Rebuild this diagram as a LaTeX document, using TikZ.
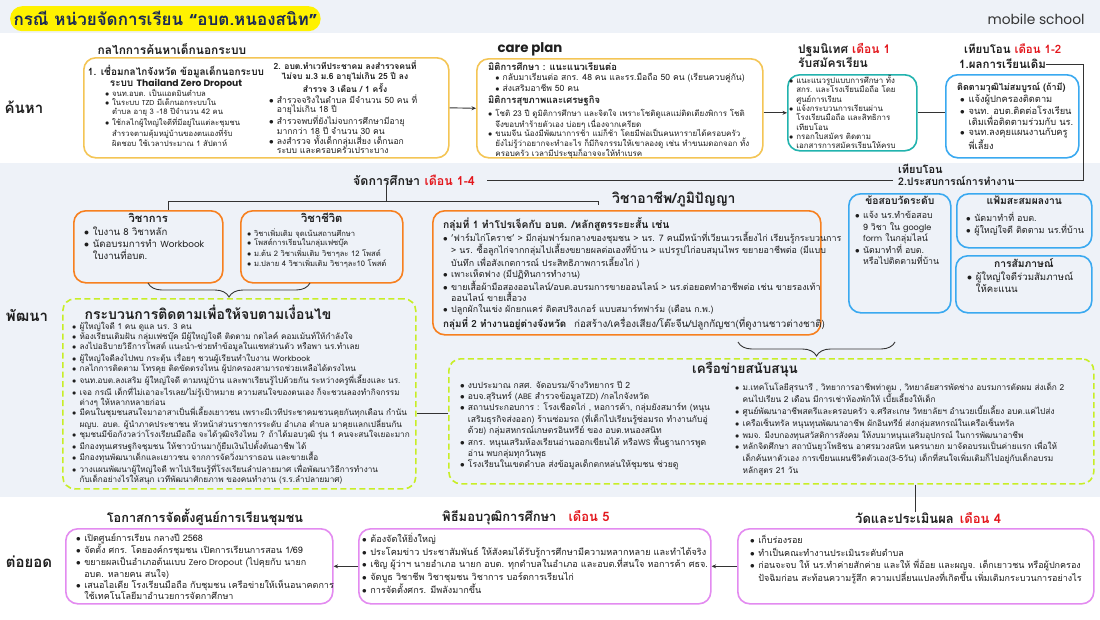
\documentclass[tikz,border=0pt]{standalone}
\usepackage{fontspec}
\setmainfont[Script=Thai]{Loma}
\newfontfamily\popfont[Scale=0.92]{Poppins}
\usepackage{xcolor}
\usetikzlibrary{arrows.meta,positioning,calc,decorations.pathreplacing}

\definecolor{bandgray}{HTML}{EEF2F8}
\definecolor{hiyellow}{HTML}{FFF200}
\definecolor{navy}{HTML}{1B2A55}
\definecolor{gold}{HTML}{F4C555}
\definecolor{mteal}{HTML}{22B3AE}
\definecolor{sky}{HTML}{3AA9F0}
\definecolor{orng}{HTML}{F7801F}
\definecolor{limeg}{HTML}{C8EE26}
\definecolor{viol}{HTML}{E38BF0}
\definecolor{mred}{HTML}{E3161C}
\definecolor{ink}{HTML}{1E1E1E}
\definecolor{linec}{HTML}{333333}

\newcommand{\fs}[2]{\fontsize{#1}{#2}\selectfont}
\newcommand{\bu}{\makebox[0.9em][l]{$\bullet$}}
\newcommand{\ind}{\hspace*{0.9em}}
\newcommand{\en}[1]{{\popfont #1}}
\newcommand{\mon}[1]{\textcolor{mred}{#1}}

\begin{document}
\begin{tikzpicture}[x=1pt, y=-1pt,
    >=Stealth,
    every node/.style={text=ink},
    card/.style={draw, rounded corners=12pt, line width=1.6pt, anchor=north west, inner sep=0pt},
    goldcard/.style={card, draw=gold},
    tealcard/.style={card, draw=mteal},
    skycard/.style={card, draw=sky},
    orgcard/.style={card, draw=orng},
    limecard/.style={card, draw=limeg, dash pattern=on 6pt off 3.5pt},
    violcard/.style={card, draw=viol},
    hd/.style={font=\bfseries\fs{13}{15}, inner sep=0pt},
    sub/.style={font=\bfseries\fs{8.5}{10}, inner sep=0pt},
    body/.style={align=left, inner sep=0pt, anchor=north west},
    arr/.style={-{Stealth[length=4.5pt,width=4pt]}, line width=0.9pt, draw=linec},
    wire/.style={line width=0.9pt, draw=linec}
  ]
  \useasboundingbox (0,0) rectangle (1100,619);
  \fill[white] (0,0) rectangle (1100,619);
  \fill[bandgray] (0,0) rectangle (1100,33);
  \fill[bandgray] (0,163) rectangle (1100,497);

  % title
  \node[fill=hiyellow, rounded corners=12pt, minimum width=303pt, minimum height=25pt, anchor=north west,
        text=navy, font=\bfseries\fs{17}{20}] (title) at (10,6) {กรณี หน่วยจัดการเรียน {\popfont “}อบต.หนองสนิท{\popfont ”}};
  \node[anchor=east, font=\popfont\fs{15}{17}, text=linec] (brand) at (1088,19) {mobile school};

  % row labels
  \node[font=\bfseries\fs{15}{17}] (rowfind) at (24,107) {ค้นหา};
  \node[font=\bfseries\fs{15}{17}] (rowdev) at (27,315) {พัฒนา};
  \node[font=\bfseries\fs{15}{17}] (rowext) at (29,562) {ต่อยอด};

  % ---- row 1 : search
  \node[goldcard, minimum width=365pt, minimum height=100pt] (mech) at (83,57) {};
  \node[hd, font=\bfseries\fs{11.9}{14}] (mechh) at (172,49) {กลไกการค้นหาเด็กนอกระบบ};
  \node[sub, font=\bfseries\fs{10}{9.5}, align=center, anchor=north] (mech1h) at (176,65) {1. เชื่อมกลไกจังหวัด ข้อมูลเด็กนอกระบบ\\ระบบ \en{Thailand Zero Dropout}};
  \node[body, font=\fs{7.7}{9.3}, below right=32pt and 22pt of mech.north west] (mech1t) {%
    \bu จนท.อบต. เป็นแอดมินตำบล\\
    \bu ในระบบ \en{TZD} มีเด็กนอกระบบใน\\
    \ind ตำบล อายุ 3 -18 ปีจำนวน 42 คน\\
    \bu ใช้กลไกผู้ใหญ่ใจดีที่มีอยู่ในแต่ละชุมชน\\
    \ind สำรวจตามคุ้มหมู่บ้านของตนเองที่รับ\\
    \ind ผิดชอบ ใช้เวลาประมาณ 1 สัปดาห์};
  \node[sub, align=center, anchor=north] (mech2h) at (345,61) {2. อบต.ทำเวทีประชาคม ลงสำรวจคนที่\\ไม่จบ ม.3 ม.6 อายุไม่เกิน 25 ปี ลง\\สำรวจ 3 เดือน / 1 ครั้ง};
  \node[body, font=\fs{8.6}{9.3}, below right=37pt and 186pt of mech.north west] (mech2t) {%
    \bu สำรวจจริงในตำบล มีจำนวน 50 คน ที่\\
    \ind อายุไม่เกิน 18 ปี\\
    \bu สำรวจพบที่ยังไม่จบการศึกษามีอายุ\\
    \ind มากกว่า 18 ปี จำนวน 30 คน\\
    \bu ลงสำรวจ ทั้งเด็กกลุ่มเสี่ยง เด็กนอก\\
    \ind ระบบ และครอบครัวเปราะบาง};

  \node[goldcard, minimum width=286pt, minimum height=99pt] (care) at (476,58) {};
  \node[font=\popfont\bfseries\fs{14.5}{16}] (careh) at (530,49) {care plan};
  \node[body, font=\fs{8}{9.2}, below right=4pt and 12pt of care.north west] (caret) {%
    {\bfseries\fs{9.4}{9.2}มิติการศึกษา : แนะแนวเรียนต่อ}\\[1.4pt]
    \ind\bu {\fs{8.6}{9.2}กลับมาเรียนต่อ สกร. 48 คน และรร.มือถือ 50 คน (เรียนควบคู่กัน)}\\[0.4pt]
    \ind\bu {\fs{8.6}{9.2}ส่งเสริมอาชีพ 50 คน}\\[2.4pt]
    {\bfseries\fs{9.4}{9.2}มิติการสุขภาพและเศรษฐกิจ}\\[2.4pt]
    \bu โชติ 23 ปี ดูมิติการศึกษา และจิตใจ เพราะโชติดูแลแม่ติดเตียงพิการ โชติ\\
    \ind จึงขอบทำร้ายตัวเอง บ่อยๆ เนื่องจากเครียด\\
    \bu ขนมจีน น้องมีพัฒนาการช้า แม่ก็ช้า โดยมีพ่อเป็นคนหารายได้ครอบครัว\\
    \ind ยังไม่รู้ว่าอยากจะทำอะไร ก็มีกิจกรรมให้เขาลองดู เช่น ทำขนมดอกจอก ทั้ง\\
    \ind ครอบครัว เวลามีประชุมก็อาจจะให้ทำเบรค};

  \node[tealcard, minimum width=129pt, minimum height=76pt] (orient) at (787,74) {};
  \node[body, font=\bfseries\fs{12}{12}] (orienth) at (798,43) {ปฐมนิเทศ \mon{เดือน 1}\\รับสมัครเรียน};
  \node[body, font=\fs{7.9}{9.3}, below right=1pt and 2pt of orient.north west] (orientt) {%
    \bu แนะแนวรูปแบบการศึกษา ทั้ง\\
    \ind สกร. และโรงเรียนมือถือ โดย\\
    \ind ศูนย์การเรียน\\
    \bu แจ้งกระบวนการเรียนผ่าน\\
    \ind โรงเรียนมือถือ และสิทธิการ\\
    \ind เทียบโอน\\
    \bu กรอกใบสมัคร ติดตาม\\
    \ind เอกสารการสมัครเรียนให้ครบ};

  \node[skycard, minimum width=133pt, minimum height=83pt] (trans) at (945,74) {};
  \node[body, font=\bfseries\fs{11.5}{13}] (tonh) at (964,44) {เทียบโอน \mon{เดือน 1-2}};
  \node[body, font=\bfseries\fs{11.5}{13}] (ton1) at (959,59) {1.ผลการเรียนเดิม};
  \node[body, font=\bfseries\fs{9}{10}, below right=8pt and 12pt of trans.north west] (transh) {ติดตามวุฒิไม่สมบูรณ์ (ถ้ามี)};
  \node[body, font=\fs{9.3}{10.5}, below right=21pt and 15pt of trans.north west] (transt) {%
    \bu แจ้งผู้ปกครองติดตาม\\
    \bu จนท. อบต.ติดต่อโรงเรียน\\
    \ind เดิมเพื่อติดตามร่วมกับ นร.\\
    \bu จนท.ลงคุยแผนงานกับครู\\
    \ind พี่เลี้ยง};

  % ---- row 2 : develop
  \node[hd, font=\bfseries\fs{12.4}{14}, anchor=west] (edua) at (353,180) {จัดการศึกษา};
  \node[hd, font=\bfseries\fs{12.4}{14}, text=mred, right=4pt of edua] (edub) {เดือน 1-4};
  \node[body, font=\bfseries\fs{11}{12}] (ton2a) at (898,164) {เทียบโอน};
  \node[body, font=\bfseries\fs{10.5}{12}] (ton2) at (898,176) {2.ประสบการณ์การทำงาน};

  \node[orgcard, minimum width=149pt, minimum height=72pt] (acad) at (73,210) {};
  \node[font=\bfseries\fs{11.2}{12}, inner sep=0pt, below=3pt of acad.north] (acadh) {วิชาการ};
  \node[body, font=\fs{9.6}{11.8}, below right=17pt and 11pt of acad.north west] (acadt) {%
    \bu ใบงาน 8 วิชาหลัก\\
    \bu นัดอบรมการทำ \en{Workbook}\\
    \ind ใบงานที่อบต.};

  \node[orgcard, minimum width=162pt, minimum height=72pt] (life) at (240,210) {};
  \node[font=\bfseries\fs{11.2}{12}, inner sep=0pt, below=3pt of life.north] (lifeh) {วิชาชีวิต};
  \node[body, font=\fs{7.6}{9.7}, below right=18pt and 7pt of life.north west] (lifet) {%
    \bu วิชาเพิ่มเติม จุดเน้นสถานศึกษา\\
    \bu โพสต์การเรียนในกลุ่มเฟซบุ๊ค\\
    \bu ม.ต้น 2 วิชาเพิ่มเติม วิชาๆละ 12 โพสต์\\
    \bu ม.ปลาย 4 วิชาเพิ่มเติม วิชาๆละ10 โพสต์};

  \node[font=\bfseries\fs{14}{16}, anchor=west, inner sep=0pt] (voch) at (612,199) {วิชาอาชีพ/ภูมิปัญญา};
  \node[orgcard, minimum width=388pt, minimum height=124pt] (voc) at (432,210) {};
  \node[body, font=\fs{8.9}{11}, below right=7pt and 11pt of voc.north west] (voct) {%
    {\bfseries\fs{10.3}{11}กลุ่มที่ 1 ทำโปรเจ็คกับ อบต. /หลักสูตรระยะสั้น เช่น}\\
    \bu 'ฟาร์มไก่โคราช' > มีกลุ่มฟาร์มกลางของชุมชน > นร. 7 คนมีหน้าที่เวียนเวรเลี้ยงไก่ เรียนรู้กระบวนการ\\
    \ind > นร. ซื้อลูกไก่จากกลุ่มไปเลี้ยงขยายผลต่อเองที่บ้าน > แปรรูปไก่อบสมุนไพร ขยายอาชีพต่อ  (มีแบบ\\
    \ind บันทึก เพื่อสังเกตการณ์ ประสิทธิภาพการเลี้ยงไก่ )\\
    \bu เพาะเห็ดฟาง  (มีปฏิทินการทำงาน)\\
    \bu ขายเสื้อผ้ามือสองออนไลน์/อบต.อบรมการขายออนไลน์ > นร.ต่อยอดทำอาชีพต่อ เช่น ขายรองเท้า\\
    \ind ออนไลน์ ขายเสื้อวง\\
    \bu ปลูกผักในเข่ง ผักยกแคร่ ติดสปริงเกอร์ แบบสมาร์ทฟาร์ม (เดือน ก.พ.)\\[2pt]
    {\fs{9.8}{11}\textbf{กลุ่มที่ 2 ทำงานอยู่ต่างจังหวัด}\hspace{8pt}ก่อสร้าง/เครื่องเสียง/โต๊ะจีน/ปลูกกัญชา(ที่ดูงานชาวต่างชาติ)}};

  \node[skycard, minimum width=102pt, minimum height=119pt] (test) at (848,193) {};
  \node[font=\bfseries\fs{10.3}{11}, inner sep=0pt, below=3pt of test.north] (testh) {ข้อสอบวัดระดับ};
  \node[body, font=\fs{8.8}{11.5}, below right=18pt and 7pt of test.north west] (testt) {%
    \bu แจ้ง นร.ทำข้อสอบ\\
    \ind 9 วิชา ใน \en{google}\\
    \ind \en{form} ในกลุ่มไลน์\\
    \bu นัดมาทำที่ อบต.\\
    \ind หรือไปติดตามที่บ้าน};

  \node[skycard, minimum width=135pt, minimum height=54pt] (port) at (956,193) {};
  \node[font=\bfseries\fs{10.3}{11}, inner sep=0pt, below=3pt of port.north] (porth) {แฟ้มสะสมผลงาน};
  \node[body, font=\fs{9}{12}, below right=19pt and 10pt of port.north west] (portt) {%
    \bu นัดมาทำที่ อบต.\\
    \bu ผู้ใหญ่ใจดี ติดตาม นร.ที่บ้าน};

  \node[skycard, minimum width=136pt, minimum height=57pt] (intv) at (955,255) {};
  \node[font=\bfseries\fs{10.3}{11}, inner sep=0pt, below=3pt of intv.north] (intvh) {การสัมภาษณ์};
  \node[body, font=\fs{9.6}{12}, below right=17pt and 12pt of intv.north west] (intvt) {%
    \bu ผู้ใหญ่ใจดีร่วมสัมภาษณ์\\
    \ind ให้คะแนน};

  \node[limecard, minimum width=353pt, minimum height=190pt] (follow) at (62,298) {};
  \node[hd, font=\bfseries\fs{14}{16}] (followh) at (208,312) {กระบวนการติดตามเพื่อให้จบตามเงื่อนไข};
  \node[body, font=\fs{8.2}{10.2}, below right=24pt and 10pt of follow.north west] (followt) {%
    \bu ผู้ใหญ่ใจดี 1 คน ดูแล นร. 3 คน\\
    \bu ห้องเรียนเติมฝัน กลุ่มเฟซบุ๊ค มีผู้ใหญ่ใจดี ติดตาม กดไลค์ คอมเม้นท์ให้กำลังใจ\\
    \bu ลงไปอธิบายวิธีการโพสต์ แนะนำ-ช่วยทำข้อมูลในแชทส่วนตัว หรือพา นร.ทำเลย\\
    \bu ผู้ใหญ่ใจดีลงไปพบ กระตุ้น เรื่อยๆ ชวนผู้เรียนทำใบงาน \en{Workbook}\\
    \bu กลไกการติดตาม โทรคุย ติดขัดตรงไหน ผู้ปกครองสามารถช่วยเหลือได้ตรงไหน\\
    \bu จนท.อบต.ลงเสริม ผู้ใหญ่ใจดี ตามหมู่บ้าน และพาเรียนรู้ไปด้วยกัน ระหว่างครูพี่เลี้ยงและ นร.\\
    \bu เจอ กรณี เด็กที่ไม่เอาอะไรเลย/ไม่รู้เป้าหมาย ความสนใจของตนเอง ก็จะชวนลองทำกิจกรรม\\
    \ind ต่างๆ ให้หลากหลายก่อน\\
    \bu มีคนในชุมชนสนใจมาอาสาเป็นพี่เลี้ยงเยาวชน เพราะมีเวทีประชาคมชวนคุยกันทุกเดือน กำนัน\\
    \ind ผญบ. อบต. ผู้นำภาคประชาชน หัวหน้าส่วนราชการระดับ อำเภอ ตำบล มาคุยแลกเปลี่ยนกัน\\
    \bu ชุมชนมีข้อกังวลว่าโรงเรียนมือถือ จะได้วุฒิจริงไหม ?  ถ้าได้มอบวุฒิ รุ่น 1 คนจะสนใจเยอะมาก\\
    \bu มีกองทุนเศรษฐกิจชุมชน  ให้ชาวบ้านมากู้ยืมเงินไปตั้งต้นอาชีพ ได้\\
    \bu มีกองทุนพัฒนาเด็กและเยาวชน  จากการจัดวิ่งมาราธอน และขายเสื้อ\\
    \bu วางแผนพัฒนาผู้ใหญ่ใจดี  พาไปเรียนรู้ที่โรงเรียนลำปลายมาศ เพื่อพัฒนาวิธีการทำงาน\\
    \ind กับเด็กอย่างไรให้สนุก เวทีพัฒนาศักยภาพ ของคนทำงาน (ร.ร.ลำปลายมาศ)};

  \node[limecard, minimum width=645pt, minimum height=125pt] (net) at (448,358) {};
  \node[hd, font=\bfseries\fs{13.4}{15}] (neth) at (745,370) {เครือข่ายสนับสนุน};
  \node[body, font=\fs{8.6}{11}, below right=23pt and 12pt of net.north west] (netl) {%
    \bu งบประมาณ กสศ. จัดอบรม/จ้างวิทยากร  ปี 2\\
    \bu อบจ.สุรินทร์ (\en{ABE} สำรวจข้อมูล\en{TZD}) /กลไกจังหวัด\\
    \bu สถานประกอบการ : โรงเชือดไก่ , หอการค้า, กลุ่มยังสมาร์ท (หนุน\\
    \ind เสริมธุรกิจส่งออก) ร้านซ่อมรถ (ที่เด็กไปเรียนรู้ซ่อมรถ ทำงานกับอู่\\
    \ind ด้วย) กลุ่มสหกรณ์เกษตรอินทรีย์ ของ อบต.หนองสนิท\\
    \bu สกร. หนุนเสริมห้องเรียนอ่านออกเขียนได้ หรือ\en{WS} พื้นฐานการพูด\\
    \ind อ่าน  พบกลุ่มทุกวันพุธ\\
    \bu โรงเรียนในเขตตำบล ส่งข้อมูลเด็กตกหล่นให้ชุมชน ช่วยดู};
  \node[body, font=\fs{8.3}{11.8}, below right=25pt and 287pt of net.north west] (netr) {%
    \bu ม.เทคโนโลยีสุรนารี , วิทยาการอาชีพท่าตูม , วิทยาลัยสารพัดช่าง อบรมการตัดผม ส่งเด็ก 2\\
    \ind คนไปเรียน 2 เดือน มีการเช่าห้องพักให้ เบี้ยเลี้ยงให้เด็ก\\
    \bu ศูนย์พัฒนาอาชีพสตรีและครอบครัว จ.ศรีสะเกษ  วิทยาลัยฯ อำนวยเบี้ยเลี้ยง อบต.แค่ไปส่ง\\
    \bu เครือเซ็นทรัล หนุนทุนพัฒนาอาชีพ ผักอินทรีย์ ส่งกลุ่มสหกรณ์ในเครือเซ็นทรัล\\
    \bu พมจ. มีงบกองทุนสวัสดิการสังคม ให้งบมาหนุนเสริมอุปกรณ์ ในการพัฒนาอาชีพ\\
    \bu หลักจิตศึกษา สถาบันยุวโพธิชน อาศรมวงสนิท นครนายก  มาจัดอบรมเป็นค่ายแรก เพื่อให้\\
    \ind เด็กค้นหาตัวเอง การเขียนแผนชีวิตตัวเอง(3-5วัน) เด็กที่สนใจเพิ่มเติมก็ไปอยู่กับเด็กอบรม\\
    \ind หลักสูตร 21 วัน};

  % ---- row 3 : extend
  \node[violcard, minimum width=267pt, minimum height=75pt] (opp) at (65,528) {};
  \node[hd, font=\bfseries\fs{12.7}{14}] (opph) at (205,517) {โอกาสการจัดตั้งศูนย์การเรียนชุมชน};
  \node[body, font=\fs{9}{9.7}, below right=5pt and 11pt of opp.north west] (oppt) {%
    \bu เปิดศูนย์การเรียน กลางปี 2568\\
    \bu จัดตั้ง ศกร. โดยองค์กรชุมชน เปิดการเรียนการสอน 1/69\\
    \bu ขยายผลเป็นอำเภอต้นแบบ \en{Zero Dropout} (ไปคุยกับ นายก\\
    \ind อบต. หลายคน สนใจ)\\
    \bu เสนอไอเดีย โรงเรียนมือถือ กับชุมชน เครือข่ายให้เห็นอนาคตการ\\
    \ind ใช้เทคโนโลยีมาอำนวยการจัดกาศึกษา};

  \node[violcard, minimum width=352pt, minimum height=75pt] (cer) at (358,528) {};
  \node[hd, anchor=west] (cerh) at (442,518) {พิธีมอบวุฒิการศึกษา\hspace{12pt}\mon{เดือน 5}};
  \node[body, font=\fs{9.1}{12.7}, below right=5pt and 4pt of cer.north west] (cert) {%
    \bu ต้องจัดให้ยิ่งใหญ่\\
    \bu ประโคมข่าว ประชาสัมพันธ์ ให้สังคมได้รับรู้การศึกษามีความหลากหลาย และทำได้จริง\\
    \bu เชิญ ผู้ว่าฯ นายอำเภอ นายก อบต. ทุกตำบลในอำเภอ และอบต.ที่สนใจ หอการค้า ศธจ.\\
    \bu จัดบูธ วิชาชีพ วิชาชุมชน วิชาการ  บอร์ดการเรียนไก่\\
    \bu การจัดตั้งศกร. มีพลังมากขึ้น};

  \node[violcard, minimum width=356pt, minimum height=75pt] (eval) at (737,528) {};
  \node[hd, anchor=west] (evalh) at (855,518) {วัดและประเมินผล\hspace{6pt}\mon{เดือน 4}};
  \node[body, font=\fs{9}{12.5}, below right=7pt and 13pt of eval.north west] (evalt) {%
    \bu เก็บร่องรอย\\
    \bu ทำเป็นคณะทำงานประเมินระดับตำบล\\
    \bu ก่อนจะจบ ให้ นร.ทำค่ายสักค่าย และให้ พี่อ้อย และผญจ. เด็กเยาวชน หรือผู้ปกครอง\\
    \ind ปัจฉิมก่อน สะท้อนความรู้สึก ความเปลี่ยนแปลงที่เกิดขึ้น เพิ่มเติมกระบวนการอย่างไร};

  % connectors
  \coordinate (tonrail) at (1083,66);
  \coordinate (railL) at (168,201);
  \coordinate (railR) at (598,201);
  \draw[arr] (mech.east) -- (care.west);
  \draw[arr] (care.east |- orient.west) -- (orient.west);
  \draw[wire] (orient.east) -- (orient.east -| trans.west);
  \draw[wire] (ton1.east) -- (ton1.east -| tonrail) -- (ton2.east -| tonrail) -- (ton2.east);
  \draw[wire, shorten <=12pt, shorten >=5pt] (edub.east) -- (edub.east -| ton2.west);
  \draw[wire] (edua.south) -- (edua.south |- railL);
  \draw[wire] (acad.north -| railL) -- (railL) -- (railR) -- ++(0,4);
  \draw[wire, decorate, decoration={brace, mirror, amplitude=14pt}] (148,283) -- (310,283);
  \draw[wire, decorate, decoration={brace, mirror, amplitude=14pt}] (738,342) -- (895,342);
  \draw[wire] ([yshift=8pt]net.west) -- ([yshift=8pt]net.west -| follow.east);
  \draw[wire] (net.south -| eval.north) -- (evalh.north -| eval.north);
  \draw[arr] (cer.west) -- (opp.east);
  \draw[arr] (eval.west) -- (cer.east);
\end{tikzpicture}
\end{document}
